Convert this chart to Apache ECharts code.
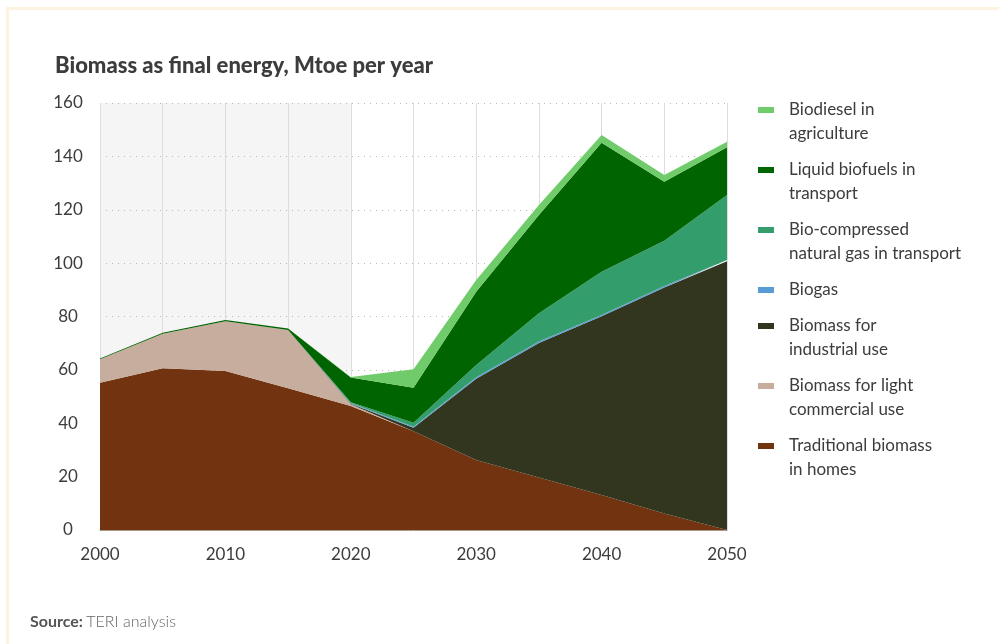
<!DOCTYPE html>
<html>
<head>
<meta charset="utf-8">
<script src="https://cdn.jsdelivr.net/npm/echarts@6/dist/echarts.min.js"></script>
<style>
  html, body { margin: 0; padding: 0; background: #ffffff; }
  #chart { width: 999px; height: 644px; }
</style>
</head>
<body>
<div id="chart"></div>
<script>
// Years on the horizontal axis (every 5 years)
const years = ['2000','2005','2010','2015','2020','2025','2030','2035','2040','2045','2050'];

// Mtoe per year, stacked from the bottom up
const traditionalHomes   = [55.2, 60.6, 59.6, 53.1, 46.5, 37.0, 26.2, 19.7, 13.1, 6.2, 0.0];
const lightCommercial    = [8.8, 12.9, 18.6, 21.8, 0.6, 0, 0, 0, 0, 0, 0];
const industrialUse      = [0, 0, 0, 0, 0.2, 1.3, 30.5, 50.4, 67.0, 84.7, 100.7];
const biogas             = [0, 0, 0, 0, 0.3, 0.4, 0.5, 0.5, 0.5, 0.5, 0.5];
const bioCNGTransport    = [0, 0, 0, 0, 0.3, 1.5, 4.6, 10.6, 16.2, 17.0, 24.3];
const liquidBiofuels     = [0.3, 0.4, 0.5, 0.6, 9.2, 13.1, 27.5, 36.8, 48.3, 22.1, 17.9];
const biodieselAgri      = [0, 0, 0, 0, 0.2, 6.9, 4.4, 3.8, 2.9, 2.5, 2.1];

const yTicks = [0, 20, 40, 60, 80, 100, 120, 140, 160];

// Series definitions (bottom to top); the legend lists them top to bottom
const seriesDefs = [
  { name: 'Traditional biomass\nin homes', data: traditionalHomes, color: '#723311', twoLine: true },
  { name: 'Biomass for light\ncommercial use', data: lightCommercial, color: '#c6ad9d', twoLine: true },
  { name: 'Biomass for\nindustrial use', data: industrialUse, color: '#33361e', twoLine: true },
  { name: 'Biogas', data: biogas, color: '#5b9bd5', twoLine: false },
  { name: 'Bio-compressed\nnatural gas in transport', data: bioCNGTransport, color: '#339e6b', twoLine: true },
  { name: 'Liquid biofuels in\ntransport', data: liquidBiofuels, color: '#006400', twoLine: true },
  { name: 'Biodiesel in\nagriculture', data: biodieselAgri, color: '#70cc6a', twoLine: true }
];

const FONT = 'Lato';
const TEXT = '#3c3c3c';

const series = [
  {
    // historic period shading
    type: 'line',
    name: '__shade',
    data: [],
    z: 0,
    silent: true,
    markArea: {
      silent: true,
      z: 0,
      itemStyle: { color: '#f5f5f5' },
      data: [[{ xAxis: '2000' }, { xAxis: '2020' }]]
    }
  }
].concat(seriesDefs.map(s => ({
  type: 'line',
  name: s.name,
  data: s.data,
  stack: 'total',
  z: 4,
  showSymbol: false,
  symbol: 'none',
  color: s.color,
  lineStyle: { width: 0 },
  areaStyle: { color: s.color, opacity: 1 },
  emphasis: { disabled: true }
})));

// One legend block per entry, first text line aligned with the swatch
const legendOrder = seriesDefs.slice().reverse();
const legendLineCenters = [110, 170, 230, 290, 326, 386, 446];
const legends = legendOrder.map((s, i) => ({
  data: [s.name],
  left: 758,
  top: legendLineCenters[i] - 12,
  padding: 0,
  orient: 'vertical',
  selectedMode: false,
  itemWidth: 26,
  itemHeight: s.twoLine ? 30 : 6,
  icon: s.twoLine
    ? 'path://M0,0h16v6h-16z M26,30L26.001,30'
    : 'path://M0,0h16v6h-16z M26,6L26.001,6',
  itemStyle: { borderWidth: 0 },
  textStyle: { fontFamily: FONT, fontSize: 17, color: TEXT, lineHeight: 24 }
}));

const chart = echarts.init(document.getElementById('chart'), null, { renderer: 'canvas' });
chart.setOption({
  animation: false,
  backgroundColor: '#ffffff',
  grid: { left: 100, right: 272, top: 103, bottom: 114 },
  legend: legends,
  xAxis: {
    type: 'category',
    data: years,
    boundaryGap: false,
    z: 2,
    axisLine: { show: true, lineStyle: { color: '#a89888', width: 1 } },
    axisTick: { show: false },
    axisLabel: {
      interval: 1,
      margin: 16,
      fontFamily: FONT,
      fontSize: 17,
      color: TEXT
    },
    splitLine: { show: true, interval: 0, lineStyle: { color: '#dddddd', width: 1, type: 'solid' } }
  },
  yAxis: {
    type: 'value',
    min: 0,
    max: 160,
    interval: 20,
    z: 2,
    axisLine: { show: false },
    axisTick: { show: false },
    axisLabel: {
      margin: 32,
      align: 'center',
      fontFamily: FONT,
      fontSize: 17,
      color: TEXT,
      formatter: v => yTicks.indexOf(v) >= 0 ? String(v) : ''
    },
    splitLine: { show: true, lineStyle: { color: '#b8b8b8', width: 1, type: [1, 5] } }
  },
  series: series,
  graphic: [
    // frame accents
    { type: 'rect', silent: true, shape: { x: 6, y: 7, width: 993, height: 3 }, style: { fill: '#fdf3e1' } },
    { type: 'rect', silent: true, shape: { x: 6, y: 7, width: 3, height: 637 }, style: { fill: '#fdf3e1' } },
    {
      type: 'text', left: 55, top: 55, silent: true,
      style: {
        text: 'Biomass as final energy, Mtoe per year',
        fontFamily: FONT, fontWeight: 900, fontSize: 22, fill: TEXT
      }
    },
    {
      type: 'text', left: 30, top: 614, silent: true,
      style: {
        text: '{b|Source:} {n|TERI analysis}',
        rich: {
          b: { fontFamily: FONT, fontWeight: 'bold', fontSize: 16, fill: '#555555' },
          n: { fontFamily: FONT, fontWeight: 300, fontSize: 16, fill: '#666666' }
        }
      }
    }
  ]
});
</script>
</body>
</html>
